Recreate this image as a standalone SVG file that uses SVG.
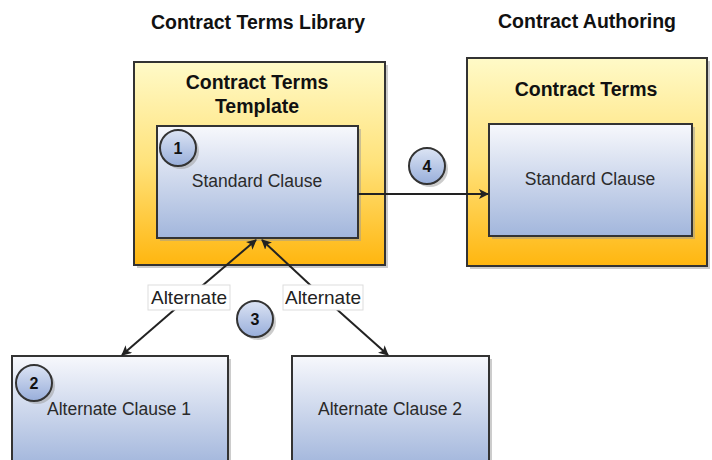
<svg xmlns="http://www.w3.org/2000/svg" width="712" height="460" viewBox="0 0 712 460">
<defs>
<linearGradient id="gOuter" x1="0" y1="0" x2="0" y2="1">
<stop offset="0" stop-color="#FFFAC8"/>
<stop offset="0.5" stop-color="#FFE27A"/>
<stop offset="1" stop-color="#FFB60F"/>
</linearGradient>
<linearGradient id="gInner" x1="0" y1="0" x2="0" y2="1">
<stop offset="0" stop-color="#F7F8FC"/>
<stop offset="1" stop-color="#A2B6DC"/>
</linearGradient>
<linearGradient id="gCirc" x1="0" y1="0" x2="0" y2="1">
<stop offset="0" stop-color="#DCE4F4"/>
<stop offset="1" stop-color="#98AEDA"/>
</linearGradient>
<marker id="arr" viewBox="0 0 10 10" refX="9" refY="5" markerWidth="10" markerHeight="10" markerUnits="userSpaceOnUse" orient="auto">
<path d="M0,0 L10,5 L0,10 L2.5,5 z" fill="#222"/>
</marker>
</defs>
<style>
.outer{fill:url(#gOuter);stroke:#333;stroke-width:2}
.inner{fill:url(#gInner);stroke:#333;stroke-width:2}
.shadow{fill:#9a9a9a;opacity:0.5}
.circ{fill:url(#gCirc);stroke:#333;stroke-width:2}
.hdr{font-family:"Liberation Sans",Arial,sans-serif;font-weight:bold;font-size:19.5px;fill:#111;text-anchor:middle}
.ttl{font-family:"Liberation Sans",Arial,sans-serif;font-weight:bold;font-size:19.5px;fill:#111;text-anchor:middle}
.txt{font-family:"Liberation Sans",Arial,sans-serif;font-size:17.5px;fill:#2a2a2a;text-anchor:middle}
.num{font-family:"Liberation Sans",Arial,sans-serif;font-weight:bold;font-size:16px;fill:#111;text-anchor:middle}
.lbl{font-family:"Liberation Sans",Arial,sans-serif;font-size:19px;fill:#222;text-anchor:middle}
.lblbox{fill:#fff;stroke:#ddd;stroke-width:1}
.con{stroke:#222;stroke-width:2;fill:none;marker-end:url(#arr)}
</style>
<rect width="712" height="460" fill="#fff"/>
<text class="hdr" x="258" y="29">Contract Terms Library</text>
<text class="hdr" x="587" y="28">Contract Authoring</text>

<g id="library">
<rect class="shadow" x="137" y="65" width="251" height="203"/>
<rect class="outer" x="134" y="62" width="251" height="203"/>
<text class="ttl" x="257" y="89">Contract Terms</text>
<text class="ttl" x="257" y="113">Template</text>
</g>
<g id="std1">
<rect class="shadow" x="160" y="129" width="201" height="112"/>
<rect class="inner" x="157" y="126" width="201" height="112"/>
<text class="txt" x="257" y="187">Standard Clause</text>
</g>
<g id="authoring">
<rect class="shadow" x="470" y="61" width="240" height="208"/>
<rect class="outer" x="467" y="58" width="240" height="208"/>
<text class="ttl" x="586" y="96">Contract Terms</text>
</g>
<g id="std2">
<rect class="shadow" x="492" y="127" width="203" height="112"/>
<rect class="inner" x="489" y="124" width="203" height="112"/>
<text class="txt" x="590" y="185">Standard Clause</text>
</g>
<g id="alt1">
<rect class="shadow" x="15" y="359" width="216" height="110"/>
<rect class="inner" x="12" y="356" width="216" height="110"/>
<text class="txt" x="119" y="415">Alternate Clause 1</text>
</g>
<g id="alt2">
<rect class="shadow" x="295" y="359" width="197" height="110"/>
<rect class="inner" x="292" y="356" width="197" height="110"/>
<text class="txt" x="390" y="415">Alternate Clause 2</text>
</g>

<g id="connectors">
<line class="con" x1="358" y1="194" x2="488" y2="194"/>
<line class="con" x1="189" y1="297" x2="256" y2="240"/>
<line class="con" x1="189" y1="297" x2="122" y2="355"/>
<line class="con" x1="323" y1="297" x2="262" y2="240"/>
<line class="con" x1="323" y1="297" x2="388" y2="355"/>
<rect class="lblbox" x="148" y="285" width="82" height="25"/>
<text class="lbl" x="189" y="304">Alternate</text>
<rect class="lblbox" x="283" y="285" width="80" height="25"/>
<text class="lbl" x="323" y="304">Alternate</text>
</g>

<g id="badge1">
<circle class="shadow" cx="181" cy="151" r="18"/>
<circle class="circ" cx="178" cy="148" r="18"/>
<text class="num" x="178" y="154">1</text>
</g>
<g id="badge2">
<circle class="shadow" cx="37" cy="386" r="18"/>
<circle class="circ" cx="34" cy="383" r="18"/>
<text class="num" x="34" y="389">2</text>
</g>
<g id="badge3">
<circle class="shadow" cx="258" cy="322" r="18"/>
<circle class="circ" cx="255" cy="319" r="18"/>
<text class="num" x="255" y="325">3</text>
</g>
<g id="badge4">
<circle class="shadow" cx="430" cy="169" r="18"/>
<circle class="circ" cx="427" cy="166" r="18"/>
<text class="num" x="427" y="172">4</text>
</g>
</svg>
